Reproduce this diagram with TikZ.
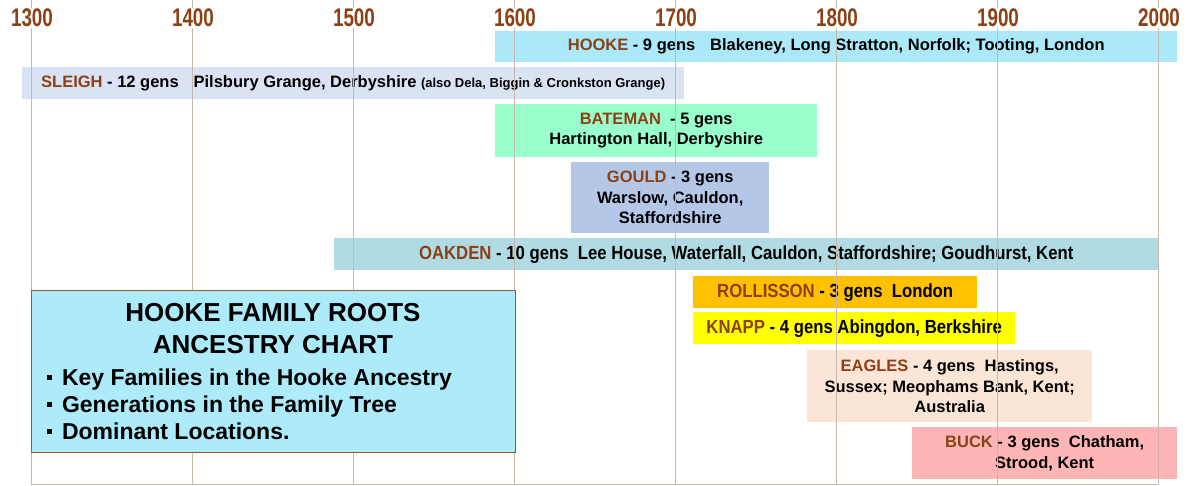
\documentclass[tikz,border=0pt]{standalone}
\usepackage{fontspec}
\setmainfont{Liberation Sans}
\newfontfamily\yearfont[FakeStretch=0.74]{Liberation Sans}
\newfontfamily\narrowfont[FakeStretch=0.88]{Liberation Sans}
\definecolor{brownc}{RGB}{140,64,20}
\definecolor{gridc}{RGB}{200,184,170}
\definecolor{hookec}{RGB}{171,233,250}
\definecolor{sleighc}{RGB}{218,227,243}
\definecolor{batemanc}{RGB}{153,255,204}
\definecolor{gouldc}{RGB}{180,199,231}
\definecolor{oakdenc}{RGB}{176,219,228}
\definecolor{rollc}{RGB}{255,192,0}
\definecolor{knappc}{RGB}{255,255,0}
\definecolor{eaglesc}{RGB}{251,229,214}
\definecolor{buckc}{RGB}{255,181,181}
\definecolor{titlec}{RGB}{173,235,251}
\definecolor{borderc}{RGB}{150,90,50}
\newcommand{\fname}[1]{{\color{brownc}#1}}
\newcommand{\bul}{\rule[5pt]{5.5pt}{5.5pt}\hspace{10pt}}
\begin{document}
\begin{tikzpicture}[x=1pt,y=-1pt,
  bar/.style={rectangle, inner sep=0pt, anchor=north west, align=center, text=black,
    font=\bfseries\fontsize{16.5}{20.5}\selectfont},
  narrowbar/.style={bar, font=\narrowfont\bfseries\fontsize{19}{20.5}\selectfont},
  yearlabel/.style={fill=white, inner sep=1pt, text=brownc,
    font=\yearfont\bfseries\fontsize{25.5}{25.5}\selectfont},
  gridline/.style={draw=gridc, line width=0.9pt},
  titleline/.style={font=\bfseries\fontsize{26}{26}\selectfont, text=black},
  bulline/.style={anchor=base west, font=\bfseries\fontsize{23}{23}\selectfont, text=black}
]
\useasboundingbox (0,0) rectangle (1200,486);

% bars
\node[bar, fill=hookec, minimum width=682, minimum height=31] (hooke) at (495,31)
  {\fname{HOOKE} - 9 gens\hspace{0.9em}Blakeney, Long Stratton, Norfolk; Tooting, London};
\node[bar, fill=sleighc, minimum width=662, minimum height=32] (sleigh) at (22,67)
  {\fname{SLEIGH} - 12 gens\hspace{0.9em}Pilsbury Grange, Derbyshire {\fontsize{13}{15}\selectfont(also Dela, Biggin \& Cronkston Grange)}};
\node[bar, fill=batemanc, minimum width=322, minimum height=53] (bateman) at (495,104)
  {\fname{BATEMAN}\ \ - 5 gens\\Hartington Hall, Derbyshire};
\node[bar, fill=gouldc, minimum width=198, minimum height=71] (gould) at (571,162)
  {\fname{GOULD} - 3 gens\\Warslow, Cauldon,\\Staffordshire};
\node[narrowbar, fill=oakdenc, minimum width=824, minimum height=32] (oakden) at (334,238)
  {\fname{OAKDEN} - 10 gens\ \ Lee House, Waterfall,\ Cauldon, Staffordshire; Goudhurst, Kent};
\node[narrowbar, fill=rollc, minimum width=284, minimum height=32] (rollisson) at (693,276)
  {\fname{ROLLISSON} - 3 gens\ \ London};
\node[narrowbar, fill=knappc, minimum width=322, minimum height=32] (knapp) at (693,312)
  {\fname{KNAPP} - 4 gens Abingdon, Berkshire};
\node[bar, fill=eaglesc, minimum width=285, minimum height=72] (eagles) at (807,350)
  {\fname{EAGLES} - 4 gens\ \ Hastings,\\Sussex; Meophams Bank, Kent;\\Australia};
\node[bar, fill=buckc, minimum width=265, minimum height=52] (buck) at (912,427)
  {\fname{BUCK} - 3 gens\ \ Chatham,\\Strood, Kent};

% grid
\foreach \i in {0,...,7} {
  \draw[gridline] ({31+161*\i},0) -- ({31+161*\i},484);
}
\draw[gridline] (31,484) -- (1158,484);

% title box
\node[draw=borderc, fill=titlec, line width=1.3pt, inner sep=0pt, anchor=north west,
  minimum width=484, minimum height=162] (titlebox) at (31,290) {};
\node[titleline] (t1) at (273,313) {HOOKE FAMILY ROOTS};
\node[titleline] (t2) at (273,345) {ANCESTRY CHART};
\node[bulline] (b1) at (43,385) {\bul Key Families in the Hooke Ancestry};
\node[bulline] (b2) at (43,412) {\bul Generations in the Family Tree};
\node[bulline] (b3) at (43,439) {\bul Dominant Locations.};

% year labels
\foreach \i/\yr in {0/1300,1/1400,2/1500,3/1600,4/1700,5/1800,6/1900,7/2000} {
  \node[yearlabel] (y\yr) at ({32+161*\i},18) {\yr};
}
\end{tikzpicture}
\end{document}
